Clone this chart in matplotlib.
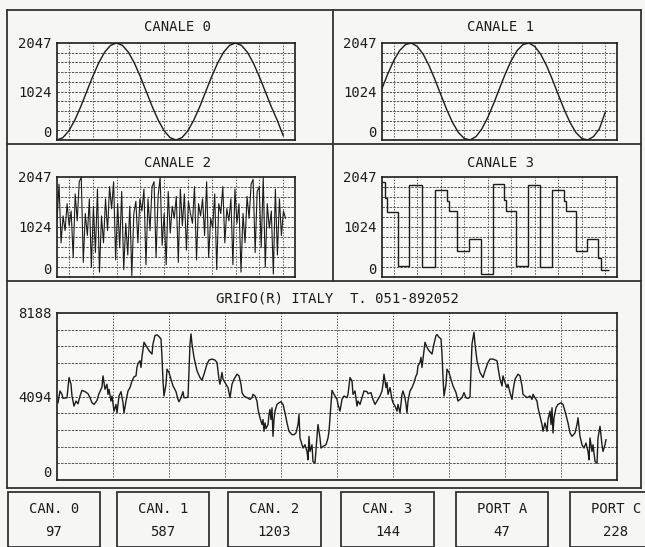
import numpy as np
import matplotlib.pyplot as plt
from matplotlib.lines import Line2D
from matplotlib.patches import Rectangle

# ---- dati letti dallo schermo ----
# canale 0 / 1: campioni ogni 2.5 unita' (asse 0..100)
canale0 = [0, 50, 195, 422, 707, 1024, 1340, 1625, 1852, 1997, 2047, 1997, 1852,
           1625, 1340, 1024, 707, 422, 195, 50, 0, 50, 195, 422, 707, 1024, 1340,
           1625, 1852, 1997, 2047, 1997, 1852, 1625, 1340, 1024, 707, 422, 97]
canale1 = [1088, 1400, 1676, 1887, 2015, 2045, 1975, 1812, 1572, 1278, 959, 647,
           371, 159, 32, 2, 72, 235, 475, 769, 1088, 1400, 1676, 1887, 2015, 2045,
           1975, 1812, 1572, 1278, 959, 647, 371, 159, 32, 2, 72, 235, 587]
# canale 2: segnale rumoroso, campioni equidistanti
canale2 = [1150, 1900, 700, 1250, 950, 1500, 1050, 1350, 400, 1700, 1150, 1950, 2040,
           300, 1300, 850, 1600, 200, 1450, 500, 1800, 100, 1250, 700, 1600, 950,
           1850, 1400, 1950, 350, 1500, 600, 1750, 150, 1100, 450, 1450, 30, 1300,
           1550, 700, 1600, 1350, 1800, 250, 1600, 950, 1850, 1950, 400, 1650, 2040,
           650, 1300, 250, 1750, 900, 1450, 1200, 1650, 300, 1800, 1050, 1700, 550,
           1550, 1300, 1100, 1850, 350, 1500, 1250, 1600, 850, 1950, 400, 1200, 1000,
           1700, 150, 1500, 1300, 1850, 700, 1400, 1150, 1600, 250, 1800, 1100, 1500,
           100, 1300, 700, 1650, 1200, 1900, 2000, 500, 1750, 1850, 600, 2040, 200,
           1500, 1000, 1350, 60, 1800, 450, 1600, 850, 1350, 1203]
# canale 3: livelli a gradini e istanti di commutazione
canale3_livelli = [1950, 1620, 1340, 235, 1880, 206, 1780, 1550, 1360, 530, 775, 60,
                   1900, 1580, 1360, 235, 1880, 206, 1780, 1550, 1360, 530, 775, 380, 144]
canale3_bordi = [0, 1.1, 2.1, 6.7, 11.5, 17.2, 22.5, 27.7, 28.4, 32.1, 37.2, 42.1,
                 47.3, 51.9, 52.6, 56.9, 62.2, 67.3, 72.5, 77.5, 78.4, 82.5, 87.4,
                 92.0, 93.1, 96.7]

# traccia grande (asse tempo 0..560)
grifo_t = [1, 3, 5, 6, 10, 12, 14, 15, 17, 19, 21, 23, 25, 28, 31, 33, 35, 37, 40, 42,
           45, 46, 48, 50, 51, 52, 54, 55, 57, 59, 60, 62, 64, 66, 67, 69, 71, 73, 75,
           77, 79, 80, 81, 83, 84, 85, 87, 90, 92, 95, 96, 98, 100, 102, 104, 105, 106,
           107, 109, 110, 112, 114, 116, 119, 121, 122, 124, 126, 127, 129, 131, 132,
           133, 134, 135, 137, 140, 143, 145, 147, 150, 152, 155, 158, 160, 161, 162,
           163, 165, 166, 168, 170, 171, 173, 174, 175, 177, 180, 182, 184, 185, 187,
           190, 191, 193, 195, 196, 198, 200, 201, 203, 205, 206, 207, 208, 209, 211,
           212, 213, 214, 215, 216, 217, 218, 220, 222, 224, 226, 228, 230, 232, 235,
           237, 239, 241, 242, 243, 245, 246, 248, 250, 251, 252, 253, 255, 256, 258,
           260, 261, 263, 264, 266, 269, 271, 272, 274, 275, 277,
           280, 281, 283, 285, 287, 290, 291, 293, 295, 296, 298, 300, 301, 303, 305,
           307, 310, 311, 314, 316, 318, 320, 321, 323, 325, 326, 327, 329, 330, 331,
           333, 335, 336, 338, 340, 341, 343, 345, 346, 348, 349, 350, 351, 353, 355,
           357, 359, 360, 361, 363, 364, 365, 366, 368, 370, 372, 375, 377, 379, 380,
           382, 384, 385, 386, 387, 389, 390, 392, 394, 396, 399, 401, 403, 405, 407,
           409, 411, 413, 414, 415, 417, 418, 420, 423, 426, 428, 431, 433, 436, 440,
           441, 443, 445, 446, 448, 450, 451, 453, 455, 456, 458, 461, 463, 465, 466,
           468, 470, 473, 475, 476, 478, 480, 481, 483, 485, 486, 488, 490, 491, 493,
           494, 495, 496, 497, 499, 501, 504, 506, 508, 511, 513, 515, 518, 520, 521,
           523, 525, 527, 529, 531, 532, 533, 535, 536, 538, 540, 541, 543, 545, 546,
           548, 549]
grifo_v = [3788, 4365, 4200, 4002, 4035, 5023, 4694, 4118, 3623, 3870, 3739, 4118, 4397,
           4332, 4233, 4035, 3788, 3706, 3903, 4233, 4562, 5106, 4447, 4694, 4200, 4447,
           3870, 4118, 3376, 3706, 3294, 4118, 4332, 3788, 3294, 3870, 4365, 4529, 4859,
           5056, 5106, 5517, 5715, 5847, 5517, 6044, 6753, 6506, 6341, 6176, 6670, 7082,
           7115, 7033, 6917, 6012, 4859, 4118, 4694, 5435, 5270, 4941, 4612, 4332, 3953,
           3838, 4035, 4332, 4035, 4035, 4068, 5353, 6670, 7164, 6670, 6012, 5353, 5023,
           4892, 5188, 5682, 5880, 5929, 5880, 5765, 5353, 4941, 4694, 5270, 4941, 4776,
           4612, 4529, 4035, 4365, 4694, 4941, 5188, 5106, 4694, 4282, 4118, 4035, 4002,
           3953, 4035, 4200, 4118, 3870, 3459, 3047, 2718, 2965, 2388, 2800, 2520, 2718,
           3212, 3459, 2965, 3541, 2141, 2965, 3376, 3706, 3788, 3838, 3706, 3294, 2800,
           2388, 2223, 2223, 2306, 2718, 3212, 2059, 1729, 1565, 1729, 1400, 988, 2141,
           1400, 1729, 906, 824, 2141, 2718, 2059, 1565, 1647, 1729, 2059, 2388, 3706,
           4397, 4200,
           3953, 3706, 3376, 3953, 4118, 4035, 4200, 5023, 4859, 4200, 4365, 3623, 3870,
           3706, 4035, 4365, 4332, 4233, 4282, 3953, 3706, 3870, 3953, 4118, 4365, 4694,
           5188, 4529, 4776, 4200, 4529, 3953, 3788, 3623, 3376, 3706, 3294, 4200, 4365,
           4035, 3706, 3294, 3870, 4365, 4529, 4776, 5106, 5188, 5600, 5765, 6012, 5517,
           5929, 6753, 6506, 6341, 6176, 6670, 7082, 7132, 7000, 6917, 6176, 5023, 4118,
           4694, 5435, 5270, 4941, 4612, 4282, 3870, 3953, 4035, 4282, 4035, 4002, 4068,
           5353, 6670, 7247, 6670, 5847, 5270, 5023, 5353, 5765, 5929, 5929, 5847, 5517,
           4941, 4612, 5106, 4776, 4529, 4694, 4282, 3953, 4365, 4941, 5188, 5106, 4612,
           4200, 4118, 4035, 4118, 3953, 4200, 4035, 3870, 3541, 3129, 2718, 2388, 2800,
           2388, 2965, 3376, 2718, 3541, 2306, 3047, 3541, 3706, 3788, 3706, 3376, 2800,
           2306, 2141, 2306, 2718, 3047, 2141, 1729, 1565, 1812, 1400, 988, 2059, 1400,
           1729, 906, 824, 2059, 2635, 1729, 1400, 1729, 1976]

riquadri = ['CAN. 0', 'CAN. 1', 'CAN. 2', 'CAN. 3', 'PORT A', 'PORT C']
letture = [97, 587, 1203, 144, 47, 228]

# ---- figura ----
W, H = 645, 547
FONT = 'DejaVu Sans Mono'
INK = '#1c1c1c'
GRID = '#555555'
plt.rcParams['font.family'] = FONT

fig = plt.figure(figsize=(W / 100, H / 100), dpi=100)
fig.patch.set_facecolor('#f6f6f4')


def assi(x0, y0, x1, y1):
    return fig.add_axes([x0 / W, 1 - y1 / H, (x1 - x0) / W, (y1 - y0) / H])


def prepara(ax, xmax, ymax, xgrid, etichette):
    ax.set_xlim(0, xmax)
    ax.set_ylim(0, ymax)
    ax.set_facecolor('#f8f8f6')
    ax.set_xticks([])
    ax.set_yticks([0, ymax / 2, ymax])
    ax.set_yticklabels(etichette, fontsize=10, color=INK)
    ax.tick_params(axis='y', length=0, pad=4)
    ax.get_yticklabels()[0].set_va('bottom')
    for x in xgrid:
        ax.axvline(x, color=GRID, lw=0.7, ls=(0, (1.5, 1.5)), zorder=1)
    for y in np.linspace(0, ymax, 11)[1:-1]:
        ax.axhline(y, color=GRID, lw=0.7, ls=(0, (2.5, 1.2)), zorder=1)
    for s in ax.spines.values():
        s.set_color(INK)
        s.set_linewidth(1.2)


def titolo(x, y, testo):
    fig.text(x / W, 1 - y / H, testo, ha='center', va='center',
             fontsize=10, color=INK)


def linea(x0, y0, x1, y1):
    fig.add_artist(Line2D([x0 / W, x1 / W], [1 - y0 / H, 1 - y1 / H],
                          color='#333333', lw=1.3))


piccoli = [(57, 43, 295, 140), (382, 43, 617, 140),
           (57, 177, 295, 277), (382, 177, 617, 277)]
ax0, ax1, ax2, ax3 = [assi(*r) for r in piccoli]
for ax in (ax0, ax1, ax2, ax3):
    prepara(ax, 100, 2047, np.arange(5, 100, 10), ['0', '1024', '2047'])

ax0.plot(np.arange(len(canale0)) * 2.5, canale0, color=INK, lw=1.0)
ax1.plot(np.arange(len(canale1)) * 2.5, canale1, color=INK, lw=1.0)
ax2.plot(np.linspace(0, 96, len(canale2)), canale2, color=INK, lw=0.8)
ax3.stairs(canale3_livelli, canale3_bordi, baseline=None, color=INK, lw=1.0)

titolo(177, 27, 'CANALE 0')
titolo(500, 27, 'CANALE 1')
titolo(177, 163, 'CANALE 2')
titolo(500, 163, 'CANALE 3')

axg = assi(57, 313, 617, 480)
prepara(axg, 560, 8188, np.arange(56, 560, 56), ['0', '4094', '8188'])
axg.plot(grifo_t, grifo_v, color=INK, lw=1.0)
titolo(337, 298, 'GRIFO(R) ITALY  T. 051-892052')

# cornici dello schermo
linea(7, 10, 641, 10)
linea(7, 10, 7, 488)
linea(641, 10, 641, 488)
linea(7, 144, 641, 144)
linea(7, 281, 641, 281)
linea(7, 488, 641, 488)
linea(333, 10, 333, 281)

# riquadri delle letture
bordi_x = [(8, 100), (117, 209), (228, 321), (341, 434), (456, 548), (570, 662)]
for (xa, xb), nome, val in zip(bordi_x, riquadri, letture):
    fig.add_artist(Rectangle((xa / W, 0), (xb - xa) / W, 1 - 492 / H,
                             transform=fig.transFigure, fill=False,
                             edgecolor='#333333', lw=1.3))
    xc = (xa + xb) / 2
    titolo(xc, 509, nome)
    titolo(xc, 532, str(val))

fig.savefig('out.png', dpi=100, facecolor=fig.get_facecolor())
